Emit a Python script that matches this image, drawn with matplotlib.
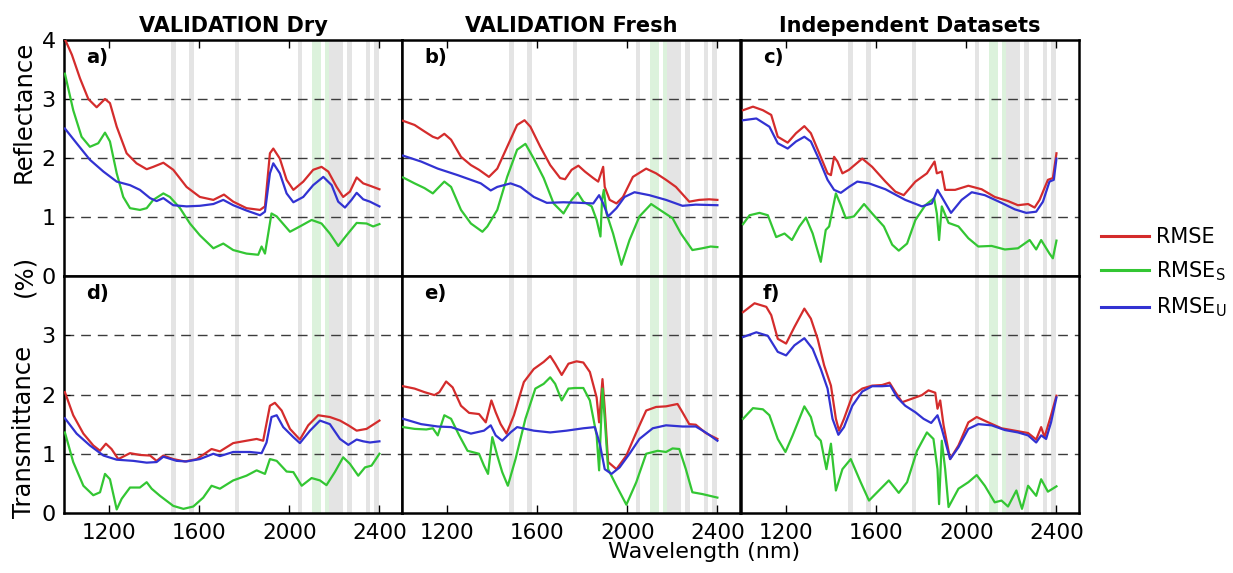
import matplotlib.pyplot as plt
from matplotlib.lines import Line2D

plt.rcParams['font.family'] = ['DejaVu Sans']
plt.rcParams['mathtext.default'] = 'regular'

# ---- error spectra (%), wavelength in nm ----
# a) VALIDATION Dry - reflectance
a_wl_r = [1000, 1035, 1071, 1108, 1145, 1182, 1204, 1234, 1278, 1322, 1367, 1396, 1441, 1485, 1544, 1603,
          1663, 1710, 1751, 1810, 1870, 1892, 1914, 1929, 1958, 1988, 2018, 2062, 2106, 2143, 2173, 2210,
          2239, 2269, 2299, 2328, 2358, 2400]
a_r = [4.05, 3.75, 3.35, 3.00, 2.86, 3.00, 2.93, 2.53, 2.08, 1.91, 1.81, 1.85, 1.92, 1.80, 1.51, 1.34,
       1.29, 1.38, 1.26, 1.15, 1.12, 1.18, 2.08, 2.16, 1.99, 1.63, 1.46, 1.60, 1.80, 1.85, 1.77, 1.51,
       1.34, 1.43, 1.67, 1.57, 1.53, 1.47]
a_wl_s = [1004, 1041, 1078, 1115, 1152, 1182, 1204, 1234, 1263, 1293, 1337, 1367, 1396, 1441, 1470, 1515,
          1559, 1603, 1663, 1707, 1751, 1810, 1862, 1877, 1892, 1921, 1944, 2003, 2047, 2099, 2143, 2180,
          2217, 2254, 2299, 2343, 2372, 2400]
a_s = [3.43, 2.81, 2.36, 2.19, 2.25, 2.43, 2.28, 1.74, 1.34, 1.15, 1.12, 1.15, 1.29, 1.40, 1.34, 1.15,
       0.89, 0.69, 0.47, 0.55, 0.44, 0.38, 0.36, 0.50, 0.38, 1.06, 1.01, 0.75, 0.84, 0.95, 0.89, 0.72,
       0.51, 0.69, 0.90, 0.89, 0.84, 0.88]
a_wl_u = [1004, 1056, 1115, 1175, 1234, 1293, 1337, 1382, 1411, 1441, 1485, 1544, 1603, 1663, 1707, 1751,
          1810, 1870, 1892, 1914, 1929, 1958, 1988, 2018, 2062, 2106, 2151, 2188, 2217, 2247, 2276, 2299,
          2328, 2358, 2400]
a_u = [2.50, 2.25, 1.97, 1.77, 1.60, 1.54, 1.46, 1.32, 1.27, 1.32, 1.20, 1.18, 1.19, 1.22, 1.29, 1.20,
       1.11, 1.03, 1.09, 1.74, 1.91, 1.74, 1.40, 1.25, 1.34, 1.54, 1.68, 1.54, 1.26, 1.16, 1.29, 1.41,
       1.30, 1.26, 1.18]

# b) VALIDATION Fresh - reflectance
b_wl_r = [1005, 1056, 1100, 1137, 1159, 1188, 1218, 1262, 1306, 1342, 1386, 1423, 1467, 1511, 1544, 1570,
          1614, 1658, 1702, 1724, 1753, 1783, 1812, 1849, 1871, 1878, 1893, 1900, 1922, 1952, 1981, 2025,
          2084, 2128, 2172, 2216, 2275, 2319, 2363, 2400]
b_r = [2.63, 2.56, 2.45, 2.36, 2.33, 2.41, 2.31, 2.02, 1.88, 1.80, 1.68, 1.82, 2.19, 2.56, 2.64, 2.53,
       2.19, 1.88, 1.66, 1.64, 1.80, 1.87, 1.77, 1.66, 1.60, 1.68, 1.85, 1.51, 1.29, 1.23, 1.34, 1.68,
       1.82, 1.74, 1.63, 1.51, 1.26, 1.29, 1.30, 1.29]
b_wl_s = [1005, 1056, 1100, 1137, 1152, 1188, 1218, 1262, 1306, 1357, 1379, 1423, 1467, 1511, 1548, 1585,
          1629, 1673, 1717, 1753, 1780, 1805, 1842, 1864, 1881, 1888, 1896, 1908, 1937, 1974, 2010, 2054,
          2106, 2157, 2201, 2238, 2289, 2333, 2370, 2400]
b_s = [1.67, 1.57, 1.49, 1.40, 1.46, 1.60, 1.51, 1.12, 0.89, 0.75, 0.84, 1.12, 1.68, 2.14, 2.24, 1.99,
       1.66, 1.23, 1.06, 1.29, 1.41, 1.26, 1.18, 0.95, 0.67, 1.29, 1.46, 1.06, 0.72, 0.19, 0.61, 1.01,
       1.22, 1.09, 0.98, 0.72, 0.44, 0.47, 0.50, 0.49]
b_wl_u = [1005, 1085, 1159, 1247, 1350, 1394, 1423, 1482, 1526, 1585, 1643, 1717, 1790, 1849, 1875, 1893,
          1915, 1952, 1988, 2032, 2098, 2172, 2245, 2304, 2400]
b_u = [2.04, 1.94, 1.82, 1.71, 1.57, 1.45, 1.51, 1.57, 1.51, 1.34, 1.24, 1.25, 1.24, 1.23, 1.37, 1.23,
       1.01, 1.15, 1.34, 1.42, 1.37, 1.29, 1.19, 1.21, 1.20]

# c) Independent Datasets - reflectance
c_wl_r = [1009, 1053, 1097, 1134, 1163, 1207, 1244, 1281, 1310, 1347, 1384, 1399, 1413, 1428, 1450, 1479,
          1538, 1582, 1641, 1685, 1722, 1774, 1825, 1859, 1869, 1891, 1906, 1950, 2009, 2068, 2126, 2185,
          2229, 2274, 2303, 2325, 2362, 2384, 2400]
c_r = [2.81, 2.87, 2.81, 2.73, 2.36, 2.26, 2.42, 2.54, 2.42, 2.08, 1.74, 1.71, 2.02, 1.94, 1.74, 1.80,
       1.99, 1.85, 1.60, 1.43, 1.37, 1.60, 1.74, 1.94, 1.74, 1.77, 1.46, 1.46, 1.53, 1.47, 1.34, 1.27,
       1.20, 1.22, 1.16, 1.29, 1.63, 1.66, 2.08]
c_wl_s = [1009, 1038, 1082, 1119, 1156, 1193, 1226, 1259, 1288, 1318, 1354, 1376, 1391, 1421, 1443, 1465,
          1501, 1546, 1582, 1634, 1671, 1700, 1737, 1774, 1818, 1857, 1869, 1879, 1891, 1921, 1965, 2009,
          2053, 2112, 2171, 2229, 2281, 2310, 2332, 2369, 2384, 2400]
c_s = [0.88, 1.03, 1.07, 1.03, 0.66, 0.72, 0.61, 0.84, 0.99, 0.72, 0.24, 0.78, 0.84, 1.40, 1.20, 0.98,
       1.01, 1.22, 1.06, 0.84, 0.53, 0.43, 0.55, 0.95, 1.20, 1.32, 1.06, 0.61, 1.18, 0.90, 0.84, 0.64,
       0.50, 0.51, 0.45, 0.47, 0.61, 0.45, 0.61, 0.38, 0.30, 0.60]
c_wl_u = [1009, 1068, 1126, 1163, 1207, 1244, 1281, 1310, 1347, 1384, 1413, 1443, 1479, 1516, 1568, 1641,
          1729, 1803, 1847, 1872, 1891, 1932, 1979, 2024, 2082, 2156, 2215, 2266, 2310, 2340, 2369, 2388,
          2400]
c_u = [2.64, 2.67, 2.53, 2.25, 2.16, 2.28, 2.36, 2.28, 1.97, 1.63, 1.46, 1.41, 1.51, 1.60, 1.57, 1.47,
       1.29, 1.18, 1.23, 1.46, 1.34, 1.07, 1.29, 1.42, 1.37, 1.24, 1.13, 1.07, 1.09, 1.26, 1.60, 1.63,
       1.99]

# d) VALIDATION Dry - transmittance
d_wl_r = [1004, 1041, 1086, 1130, 1160, 1186, 1211, 1241, 1293, 1337, 1382, 1411, 1441, 1485, 1537, 1589,
          1655, 1692, 1751, 1810, 1855, 1884, 1914, 1936, 1966, 2003, 2047, 2084, 2128, 2180, 2225, 2262,
          2299, 2343, 2400]
d_r = [2.04, 1.65, 1.34, 1.14, 1.05, 1.17, 1.08, 0.91, 1.01, 0.98, 0.97, 0.88, 0.97, 0.91, 0.87, 0.91,
       1.08, 1.04, 1.18, 1.22, 1.25, 1.22, 1.81, 1.86, 1.73, 1.42, 1.24, 1.48, 1.65, 1.62, 1.56, 1.48,
       1.39, 1.42, 1.56]
d_wl_s = [1004, 1041, 1086, 1130, 1160, 1182, 1204, 1234, 1256, 1293, 1337, 1367, 1389, 1426, 1485, 1530,
          1574, 1618, 1655, 1692, 1751, 1810, 1855, 1892, 1914, 1944, 1988, 2018, 2055, 2099, 2136, 2165,
          2202, 2239, 2269, 2306, 2336, 2365, 2400]
d_s = [1.36, 0.86, 0.46, 0.30, 0.35, 0.66, 0.57, 0.06, 0.24, 0.43, 0.43, 0.52, 0.41, 0.29, 0.12, 0.07,
       0.11, 0.26, 0.46, 0.41, 0.55, 0.63, 0.72, 0.66, 0.91, 0.88, 0.70, 0.69, 0.46, 0.59, 0.55, 0.47,
       0.69, 0.94, 0.83, 0.63, 0.77, 0.80, 1.00]
d_wl_u = [1004, 1056, 1115, 1175, 1234, 1308, 1367, 1411, 1441, 1500, 1544, 1603, 1663, 1692, 1751, 1825,
          1877, 1899, 1921, 1944, 1973, 2018, 2047, 2092, 2136, 2180, 2225, 2262, 2299, 2328, 2358, 2400]
d_u = [1.60, 1.34, 1.14, 0.97, 0.90, 0.88, 0.85, 0.86, 0.95, 0.88, 0.87, 0.91, 1.00, 0.96, 1.03, 1.03,
       1.01, 1.19, 1.62, 1.65, 1.45, 1.28, 1.18, 1.39, 1.56, 1.50, 1.25, 1.15, 1.24, 1.21, 1.19, 1.21]

# e) VALIDATION Fresh - transmittance
e_wl_r = [1005, 1056, 1100, 1144, 1166, 1196, 1225, 1262, 1298, 1342, 1372, 1397, 1416, 1438, 1464, 1497,
          1541, 1585, 1629, 1658, 1680, 1709, 1739, 1775, 1805, 1834, 1864, 1875, 1890, 1900, 1915, 1952,
          1996, 2040, 2084, 2128, 2172, 2223, 2245, 2275, 2304, 2348, 2400]
e_r = [2.14, 2.10, 2.04, 1.99, 2.04, 2.22, 2.12, 1.81, 1.69, 1.67, 1.53, 1.90, 1.70, 1.50, 1.34, 1.65,
       2.21, 2.43, 2.55, 2.65, 2.52, 2.33, 2.52, 2.56, 2.54, 2.38, 1.95, 1.53, 2.26, 1.76, 0.86, 0.74,
       0.97, 1.36, 1.73, 1.79, 1.80, 1.84, 1.70, 1.50, 1.49, 1.35, 1.25]
e_wl_s = [1005, 1056, 1108, 1137, 1159, 1188, 1218, 1254, 1291, 1342, 1364, 1382, 1401, 1423, 1445, 1470,
          1504, 1548, 1592, 1629, 1658, 1680, 1709, 1739, 1768, 1805, 1834, 1864, 1875, 1890, 1900, 1915,
          1952, 1996, 2040, 2084, 2135, 2172, 2201, 2231, 2260, 2289, 2333, 2400]
e_s = [1.45, 1.42, 1.41, 1.43, 1.31, 1.65, 1.59, 1.31, 1.05, 1.00, 0.80, 0.66, 1.28, 0.97, 0.69, 0.46,
       0.91, 1.59, 2.10, 2.18, 2.29, 2.18, 1.90, 2.10, 2.11, 2.11, 1.90, 1.31, 0.72, 2.10, 1.59, 0.74,
       0.46, 0.14, 0.52, 1.00, 1.05, 1.03, 1.09, 1.08, 0.74, 0.35, 0.32, 0.26]
e_wl_u = [1005, 1085, 1159, 1218, 1306, 1364, 1394, 1416, 1445, 1482, 1511, 1585, 1658, 1731, 1805, 1856,
          1878, 1900, 1930, 1966, 2010, 2054, 2113, 2172, 2245, 2304, 2348, 2400]
e_u = [1.59, 1.50, 1.46, 1.45, 1.34, 1.39, 1.48, 1.31, 1.22, 1.36, 1.45, 1.39, 1.36, 1.39, 1.43, 1.45,
       1.17, 0.74, 0.66, 0.77, 1.00, 1.25, 1.43, 1.48, 1.46, 1.46, 1.36, 1.22]

# f) Independent Datasets - transmittance
f_wl_r = [1009, 1060, 1112, 1134, 1163, 1200, 1237, 1281, 1310, 1340, 1369, 1399, 1421, 1435, 1457, 1494,
          1538, 1582, 1626, 1659, 1685, 1715, 1759, 1803, 1832, 1862, 1872, 1884, 1899, 1928, 1965, 2009,
          2046, 2097, 2156, 2215, 2274, 2310, 2332, 2347, 2376, 2400]
f_r = [3.39, 3.54, 3.48, 3.34, 2.94, 2.86, 3.14, 3.45, 3.28, 2.94, 2.49, 2.15, 1.59, 1.39, 1.59, 1.98,
       2.10, 2.15, 2.16, 2.20, 2.04, 1.87, 1.93, 1.99, 2.07, 2.03, 1.76, 1.90, 1.48, 0.91, 1.14, 1.53,
       1.62, 1.53, 1.43, 1.39, 1.35, 1.24, 1.45, 1.28, 1.65, 1.98]
f_wl_s = [1009, 1053, 1097, 1126, 1163, 1197, 1229, 1281, 1310, 1332, 1354, 1379, 1399, 1421, 1450, 1487,
          1531, 1568, 1612, 1656, 1700, 1737, 1781, 1825, 1854, 1872, 1879, 1891, 1906, 1921, 1965, 2009,
          2046, 2082, 2126, 2156, 2185, 2222, 2247, 2274, 2310, 2332, 2362, 2400]
f_s = [1.59, 1.77, 1.75, 1.65, 1.25, 1.03, 1.31, 1.80, 1.62, 1.31, 1.22, 0.74, 1.17, 0.38, 0.74, 0.91,
       0.52, 0.21, 0.38, 0.55, 0.34, 0.52, 1.05, 1.36, 1.25, 0.74, 0.15, 1.22, 0.74, 0.10, 0.41, 0.52,
       0.64, 0.46, 0.18, 0.21, 0.11, 0.38, 0.07, 0.46, 0.29, 0.57, 0.36, 0.45]
f_wl_u = [1009, 1068, 1119, 1163, 1200, 1237, 1281, 1318, 1354, 1384, 1406, 1432, 1457, 1494, 1538, 1582,
          1626, 1663, 1693, 1729, 1774, 1810, 1844, 1872, 1891, 1928, 1965, 2009, 2053, 2112, 2171, 2229,
          2274, 2310, 2332, 2354, 2376, 2400]
f_u = [2.97, 3.05, 2.99, 2.72, 2.66, 2.83, 2.95, 2.77, 2.43, 2.10, 1.59, 1.32, 1.45, 1.81, 2.05, 2.14,
       2.14, 2.15, 1.95, 1.81, 1.70, 1.59, 1.52, 1.65, 1.42, 0.91, 1.11, 1.42, 1.50, 1.48, 1.40, 1.36,
       1.31, 1.19, 1.31, 1.25, 1.53, 1.95]

# excluded / highlighted spectral bands (nm)
gray_bands = [(1475, 1496), (1556, 1577), (1759, 1778), (2037, 2055), (2177, 2237),
              (2257, 2277), (2339, 2358), (2377, 2398)]
green_bands = [(2099, 2139), (2158, 2177)]

titles = ['VALIDATION Dry', 'VALIDATION Fresh', 'Independent Datasets']
panel_tags = ['a)', 'b)', 'c)', 'd)', 'e)', 'f)']
series_labels = ['RMSE', 'RMSE$_S$', 'RMSE$_U$']
colors = ['#d42c2c', '#33c633', '#3232d2']

panels = [
    (a_wl_r, a_r, a_wl_s, a_s, a_wl_u, a_u),
    (b_wl_r, b_r, b_wl_s, b_s, b_wl_u, b_u),
    (c_wl_r, c_r, c_wl_s, c_s, c_wl_u, c_u),
    (d_wl_r, d_r, d_wl_s, d_s, d_wl_u, d_u),
    (e_wl_r, e_r, e_wl_s, e_s, e_wl_u, e_u),
    (f_wl_r, f_r, f_wl_s, f_s, f_wl_u, f_u),
]

fig = plt.figure(figsize=(12.33, 5.73), dpi=100)

col_x = [0.0519, 0.3260, 0.6010]
col_w = 0.2741
row_y = [0.5183, 0.1047]
row_h = [0.4119, 0.4136]

for i, data in enumerate(panels):
    row, col = divmod(i, 3)
    ax = fig.add_axes([col_x[col], row_y[row], col_w, row_h[row]])

    for lo, hi in gray_bands:
        ax.axvspan(lo, hi, color='#e4e4e4', lw=0, zorder=0)
    for lo, hi in green_bands:
        ax.axvspan(lo, hi, color='#dcf2dc', lw=0, zorder=0)

    for y in (1, 2, 3):
        ax.axhline(y, color='#3c3c3c', lw=1.0, dashes=(7, 5), zorder=1)

    for k in range(3):
        ax.plot(data[2 * k], data[2 * k + 1], color=colors[k], lw=1.6, zorder=3)

    ax.set_xlim(1000, 2500)
    ax.set_ylim(0, 4)
    ax.set_xticks([1200, 1600, 2000, 2400])

    if row == 0:
        ax.tick_params(axis='x', top=True, bottom=False, labelbottom=False,
                       direction='in', length=6, width=1)
        ax.set_title(titles[col], fontsize=15, fontweight='bold', pad=6)
    else:
        ax.tick_params(axis='x', top=False, bottom=True, direction='in',
                       length=6, width=1, labelsize=15.5, pad=7)

    if col == 0:
        ax.set_yticks([0, 1, 2, 3, 4] if row == 0 else [0, 1, 2, 3])
        ax.tick_params(axis='y', direction='in', length=4, labelsize=16, pad=6)
    else:
        ax.set_yticks([])

    for sp in ax.spines.values():
        sp.set_linewidth(1.8)

    ax.text(0.065, 0.925, panel_tags[i], transform=ax.transAxes, fontsize=14,
            fontweight='bold', ha='left', va='center')

# shared axis labels
fig.text(0.5713, 0.036, 'Wavelength (nm)', ha='center', va='center', fontsize=16)
fig.text(0.0195, 1 - 112 / 573, 'Reflectance', rotation=90, ha='center', va='center', fontsize=17.5)
fig.text(0.0195, 1 - 276 / 573, '(%)', rotation=90, ha='center', va='center', fontsize=17.5)
fig.text(0.0195, 1 - 432 / 573, 'Transmittance', rotation=90, ha='center', va='center', fontsize=17.5)

handles = [Line2D([], [], color=c, lw=2.2) for c in colors]
fig.legend(handles, series_labels, loc='center left', bbox_to_anchor=(0.893, 0.523),
           frameon=False, fontsize=15, handlelength=2.3, handletextpad=0.35,
           labelspacing=0.6, borderpad=0, borderaxespad=0)

fig.savefig('out.png', dpi=100)
